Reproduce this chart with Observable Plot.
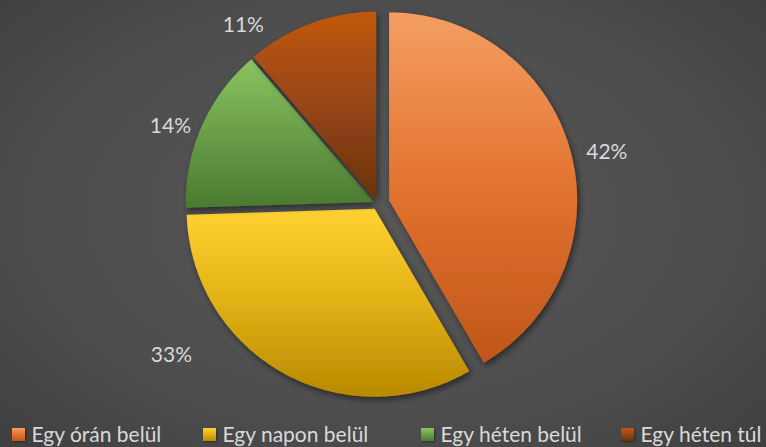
<!DOCTYPE html>
<html><head><meta charset="utf-8">
<script src="https://cdn.jsdelivr.net/npm/d3@7"></script>
<script src="https://cdn.jsdelivr.net/npm/@observablehq/plot@0.6"></script>
<style>
html,body{margin:0;padding:0;width:766px;height:447px;overflow:hidden;}
body{background: radial-gradient(ellipse 75% 80% at 50% 48%, #575757 0%, #4e4e4e 55%, #3d3d3d 100%);}
#chart svg{background:transparent;display:block;}
g.slice{filter:url(#shadow);}
g.legend-key{filter:url(#shadowSmall);}
</style></head><body>
<svg width="0" height="0" style="position:absolute">
<defs>
<linearGradient id="g0" x1="0" y1="0" x2="0" y2="1"><stop offset="0" stop-color="#f59e62"/><stop offset="0.5" stop-color="#e2732f"/><stop offset="1" stop-color="#bf561a"/></linearGradient>
<linearGradient id="g1" x1="0" y1="0" x2="0" y2="1"><stop offset="0" stop-color="#ffd232"/><stop offset="0.5" stop-color="#e2b116"/><stop offset="1" stop-color="#b98900"/></linearGradient>
<linearGradient id="g2" x1="0" y1="0" x2="0" y2="1"><stop offset="0" stop-color="#8bc462"/><stop offset="0.5" stop-color="#6a9e48"/><stop offset="1" stop-color="#4a7a30"/></linearGradient>
<linearGradient id="g3" x1="0" y1="0" x2="0" y2="1"><stop offset="0" stop-color="#c25810"/><stop offset="0.5" stop-color="#954514"/><stop offset="1" stop-color="#6c320e"/></linearGradient>
<filter id="shadow" x="-20%" y="-20%" width="140%" height="140%"><feDropShadow dx="2" dy="3" stdDeviation="3" flood-color="#000" flood-opacity="0.5"/></filter>
<filter id="shadowSmall" x="-50%" y="-50%" width="200%" height="200%"><feDropShadow dx="1" dy="1" stdDeviation="1" flood-color="#000" flood-opacity="0.4"/></filter>
</defs></svg>
<div id="chart"></div>
<script>
// ---- data ----
const categories = ["Egy órán belül", "Egy napon belül", "Egy héten belül", "Egy héten túl"];
const shares = [41.6, 32.9, 14.2, 11.3];
const labels = ["42%", "33%", "14%", "11%"];

// ---- layout ----
const W = 766, H = 447;
const CX = 377, CY = 203, R = 188;
const explode = [12, 6, 4, 4];
const labelPolar = [[77.4, 235], [233.6, 256], [290.4, 221], [323, 223]]; // deg, px from centre
const legendX = [12, 203, 421, 621];
const legendY = 435;
const textColor = "#d9d9d9";
const font = "Lato, 'Open Sans', sans-serif";

const arcs = d3.pie().sort(null).value(d => d)(shares);
const slices = arcs.map((p, i) => {
  const mid = (p.startAngle + p.endAngle) / 2;
  const cx = CX + explode[i] * Math.sin(mid), cy = CY - explode[i] * Math.cos(mid);
  const pts = [{x: cx, y: cy}];
  const n = Math.ceil((p.endAngle - p.startAngle) / (Math.PI / 360));
  for (let k = 0; k <= n; k++) {
    const a = p.startAngle + (p.endAngle - p.startAngle) * k / n;
    pts.push({x: cx + R * Math.sin(a), y: cy - R * Math.cos(a)});
  }
  return pts;
});

const labelRows = labels.map((t, i) => {
  const a = labelPolar[i][0] * Math.PI / 180, r = labelPolar[i][1];
  return {text: t, x: CX + r * Math.sin(a), y: CY - r * Math.cos(a)};
});

const legendRows = categories.map((c, i) => ({name: c, i, x: legendX[i], y: legendY}));

const plot = Plot.plot({
  width: W, height: H, margin: 0,
  x: {domain: [0, W], range: [0, W], axis: null},
  y: {domain: [0, H], range: [0, H], axis: null},
  style: {background: "transparent", fontFamily: font},
  marks: [
    ...slices.map((pts, i) => Plot.line(pts, {x: "x", y: "y", fill: `url(#g${i})`, stroke: "none", className: "slice"})),
    Plot.text(labelRows, {x: "x", y: "y", text: "text", fill: textColor, fontSize: 21, textAnchor: "middle", lineAnchor: "middle"}),
    ...legendRows.map(d => Plot.rect([d], {x1: d => d.x, x2: d => d.x + 13, y1: d => d.y - 7, y2: d => d.y + 6, fill: `url(#g${d.i})`, className: "legend-key"})),
    Plot.text(legendRows, {x: d => d.x + 19, y: "y", text: "name", fill: textColor, fontSize: 21, textAnchor: "start", lineAnchor: "middle"})
  ]
});
document.getElementById("chart").appendChild(plot);
</script>
</body></html>
